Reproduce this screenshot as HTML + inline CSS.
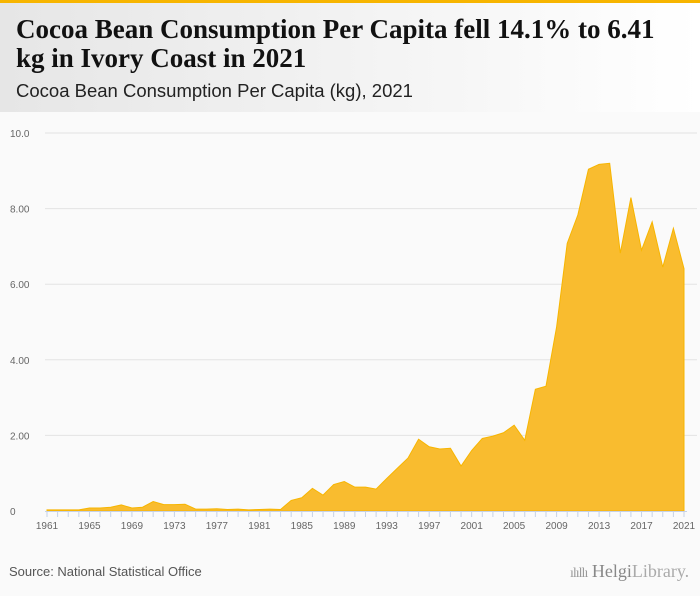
<!DOCTYPE html>
<html><head><meta charset="utf-8"><style>
body{margin:0;width:700px;height:596px;background:#fafafa;font-family:"Liberation Sans",sans-serif;overflow:hidden;position:relative}
#topbar{position:absolute;left:0;top:0;width:700px;height:3px;background:#f7b500}
#header{position:absolute;left:0;top:3px;width:700px;height:109px;background:linear-gradient(90deg,#e6e6e6,#ffffff)}
#title{position:absolute;left:16px;top:15px;font-family:"Liberation Serif",serif;font-weight:bold;font-size:27px;line-height:29px;color:#111;width:670px}
#subtitle{position:absolute;left:16px;top:80px;font-size:18.5px;color:#222}
#source{position:absolute;left:9px;top:564px;font-size:13px;color:#555}
#logo{position:absolute;left:570px;top:561px;font-family:"Liberation Serif",serif;font-size:18px;color:#999}
</style></head><body>
<div id="topbar"></div>
<div id="header"></div>
<div id="title">Cocoa Bean Consumption Per Capita fell 14.1% to 6.41 kg in Ivory Coast in 2021</div>
<div id="subtitle">Cocoa Bean Consumption Per Capita (kg), 2021</div>
<svg id="chart" width="700" height="596" style="position:absolute;left:0;top:0"></svg>
<div id="source">Source: National Statistical Office</div>
<div id="logo"><span style="font-size:14px;letter-spacing:-1px">ılıllı</span> <span style="color:#888">Helgi</span><span style="color:#aaa">Library.</span></div>
<script>
const years=[];for(let y=1961;y<=2021;y++)years.push(y);
const values=[0.03,0.03,0.03,0.03,0.08,0.08,0.1,0.16,0.08,0.1,0.25,0.17,0.17,0.18,0.05,0.05,0.06,0.04,0.05,0.03,0.04,0.05,0.04,0.28,0.35,0.6,0.42,0.7,0.78,0.63,0.63,0.58,0.86,1.13,1.4,1.9,1.7,1.64,1.66,1.19,1.6,1.92,1.98,2.07,2.27,1.87,3.22,3.3,4.87,7.08,7.83,9.04,9.17,9.2,6.82,8.29,6.9,7.65,6.45,7.48,6.41];
const yTicks=[0,2,4,6,8,10];
const yTickLabels=["0","2.00","4.00","6.00","8.00","10.0"];
const xLabelYears=[1961,1965,1969,1973,1977,1981,1985,1989,1993,1997,2001,2005,2009,2013,2017,2021];
const svg=document.getElementById('chart');const NS='http://www.w3.org/2000/svg';
const X=y=>47+(y-1961)*(684-47)/60;const Y=v=>511-v*37.8;
function mk(t,a){const e=document.createElementNS(NS,t);for(const k in a)e.setAttribute(k,a[k]);svg.appendChild(e);return e;}
yTicks.forEach((t,i)=>{
 if(t>0){const g=mk('line',{x1:45,x2:697,y1:Y(t),y2:Y(t),stroke:'#e3e3e3','stroke-width':1});
 
 }
 const l=mk('text',{x:10,y:Y(t)+4,'font-size':10,fill:'#666','font-family':'Liberation Sans, sans-serif'});l.textContent=yTickLabels[i];
 
 
});
let d='M'+X(years[0])+','+Y(0);
years.forEach((yr,i)=>{d+=' L'+X(yr)+','+Y(values[i]);});
d+=' L'+X(years[years.length-1])+','+Y(0)+' Z';
const area=mk('path',{d:d,fill:'#f9bc2f',stroke:'#f7b500','stroke-width':1});


const ax=mk('line',{x1:45,x2:687,y1:511.5,y2:511.5,stroke:'#c6d2e6'});


years.forEach(yr=>{const t=mk('line',{x1:X(yr),x2:X(yr),y1:511,y2:517,stroke:'#c6d2e6'});
 
 });
xLabelYears.forEach(yr=>{const l=mk('text',{x:X(yr),y:529,'font-size':10,fill:'#666','text-anchor':'middle','font-family':'Liberation Sans, sans-serif'});l.textContent=yr;
 
 });
</script>
</body></html>
